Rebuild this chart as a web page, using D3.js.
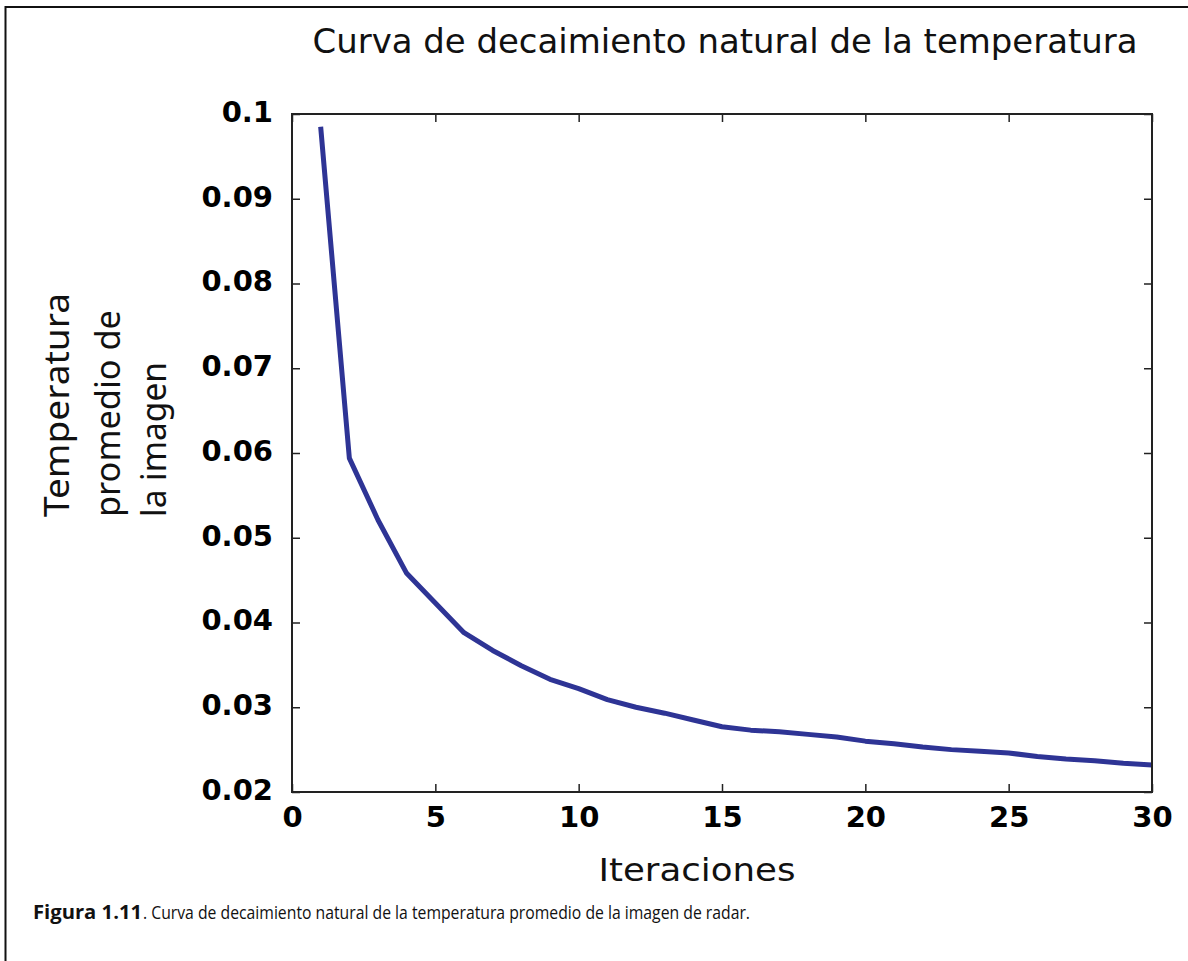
<!DOCTYPE html>
<html>
<head>
<meta charset="utf-8">
<script src="https://cdn.jsdelivr.net/npm/d3@7"></script>
<style>
  body { margin: 0; background: #fff; }
  svg { display: block; }
</style>
</head>
<body>
<svg id="chart" width="1188" height="961"></svg>
<script>
const width = 1188,
  height = 961;

// data
const iterations = [1, 2, 3, 4, 5, 6, 7, 8, 9, 10, 11, 12, 13, 14, 15,
  16, 17, 18, 19, 20, 21, 22, 23, 24, 25, 26, 27, 28, 29, 30];
const temperature = [0.0985, 0.0594, 0.0521, 0.0458, 0.0423, 0.0388, 0.0367, 0.0349,
  0.0333, 0.0322, 0.0309, 0.0300, 0.0293, 0.0285, 0.0277, 0.0273, 0.0271, 0.0268,
  0.0265, 0.0260, 0.0257, 0.0253, 0.0250, 0.0248, 0.0246, 0.0242, 0.0239, 0.0237,
  0.0234, 0.0232];
const xTicks = [0, 5, 10, 15, 20, 25, 30];
const yTicks = [0.02, 0.03, 0.04, 0.05, 0.06, 0.07, 0.08, 0.09, 0.1];
const yTickLabels = ["0.02", "0.03", "0.04", "0.05", "0.06", "0.07", "0.08", "0.09", "0.1"];
const yLabelLines = ["Temperatura", "promedio de", "la imagen"];

const svg = d3.select("#chart");

const plot = { left: 292, right: 1152, top: 114, bottom: 792 };

const x = d3.scaleLinear().domain([0, 30]).range([plot.left, plot.right]);
const y = d3.scaleLinear().domain([0.02, 0.1]).range([plot.bottom, plot.top]);

// outer figure frame (left and top edges only visible)
svg.append("path")
  .attr("d", `M5.5,${height} V7 H${width}`)
  .attr("fill", "none")
  .attr("stroke", "#111")
  .attr("stroke-width", 2);

// title
svg.append("text")
  .attr("x", 725)
  .attr("y", 53)
  .attr("text-anchor", "middle")
  .attr("font-family", "'Comic Sans MS', 'DejaVu Sans', sans-serif")
  .attr("font-size", 34)
  .attr("textLength", 825)
  .attr("lengthAdjust", "spacingAndGlyphs")
  .attr("fill", "#111")
  .text("Curva de decaimiento natural de la temperatura");

// the data line
const line = d3.line()
  .x((d, i) => x(iterations[i]))
  .y(d => y(d));

svg.append("path")
  .datum(temperature)
  .attr("d", line)
  .attr("fill", "none")
  .attr("stroke", "#2e3495")
  .attr("stroke-width", 5)
  .attr("stroke-linejoin", "round");

// axes with inward ticks on all four sides
const tickLen = 8;
const gx = svg.append("g").attr("transform", `translate(0,${plot.bottom})`)
  .call(d3.axisBottom(x).tickValues(xTicks).tickSizeInner(-tickLen).tickSizeOuter(0).tickPadding(14));
const gxTop = svg.append("g").attr("transform", `translate(0,${plot.top})`)
  .call(d3.axisTop(x).tickValues(xTicks).tickSizeInner(-tickLen).tickSizeOuter(0).tickFormat(""));
const gy = svg.append("g").attr("transform", `translate(${plot.left},0)`)
  .call(d3.axisLeft(y).tickValues(yTicks).tickSizeInner(-tickLen).tickSizeOuter(0).tickPadding(19)
    .tickFormat((d, i) => yTickLabels[i]));
const gyRight = svg.append("g").attr("transform", `translate(${plot.right},0)`)
  .call(d3.axisRight(y).tickValues(yTicks).tickSizeInner(-tickLen).tickSizeOuter(0).tickFormat(""));

[gx, gxTop, gy, gyRight].forEach(g => {
  g.select(".domain").remove();
  g.selectAll(".tick line").attr("stroke", "#222").attr("stroke-width", 1.5);
});

gx.selectAll(".tick text")
  .attr("font-family", "'DejaVu Sans', sans-serif")
  .attr("font-weight", "bold")
  .attr("font-size", 29)
  .attr("fill", "#000");
gy.selectAll(".tick text")
  .attr("font-family", "'DejaVu Sans', sans-serif")
  .attr("font-weight", "bold")
  .attr("font-size", 29)
  .attr("fill", "#000")
  .attr("dy", "0.25em");

// plot frame
svg.append("rect")
  .attr("x", plot.left)
  .attr("y", plot.top)
  .attr("width", plot.right - plot.left)
  .attr("height", plot.bottom - plot.top)
  .attr("fill", "none")
  .attr("stroke", "#222")
  .attr("stroke-width", 2);

// x axis title
svg.append("text")
  .attr("x", 697)
  .attr("y", 881)
  .attr("text-anchor", "middle")
  .attr("font-family", "'Comic Sans MS', 'DejaVu Sans', sans-serif")
  .attr("font-size", 32)
  .attr("textLength", 197)
  .attr("lengthAdjust", "spacingAndGlyphs")
  .attr("fill", "#111")
  .text("Iteraciones");

// y axis title, three rotated lines
const yLabelBase = [69, 120, 166];
const yLabelLen = [224, 207, 155];
yLabelLines.forEach((t, i) => {
  svg.append("text")
    .attr("transform", `translate(${yLabelBase[i]},517) rotate(-90)`)
    .attr("font-family", "'Noto Sans', sans-serif")
    .attr("font-size", 34)
    .attr("textLength", yLabelLen[i])
    .attr("lengthAdjust", "spacingAndGlyphs")
    .attr("fill", "#111")
    .text(t);
});

// caption: bold figure number, then the description
svg.append("text")
  .attr("x", 33)
  .attr("y", 919)
  .attr("font-family", "'Open Sans', 'Noto Sans', sans-serif")
  .attr("font-size", 19)
  .attr("font-weight", "bold")
  .attr("textLength", 109)
  .attr("lengthAdjust", "spacingAndGlyphs")
  .attr("fill", "#111")
  .text("Figura 1.11");
svg.append("text")
  .attr("x", 143)
  .attr("y", 919)
  .attr("font-family", "'Open Sans', 'Noto Sans', sans-serif")
  .attr("font-size", 19)
  .attr("textLength", 607)
  .attr("lengthAdjust", "spacingAndGlyphs")
  .attr("fill", "#111")
  .text(". Curva de decaimiento natural de la temperatura promedio de la imagen de radar.");
</script>
</body>
</html>
